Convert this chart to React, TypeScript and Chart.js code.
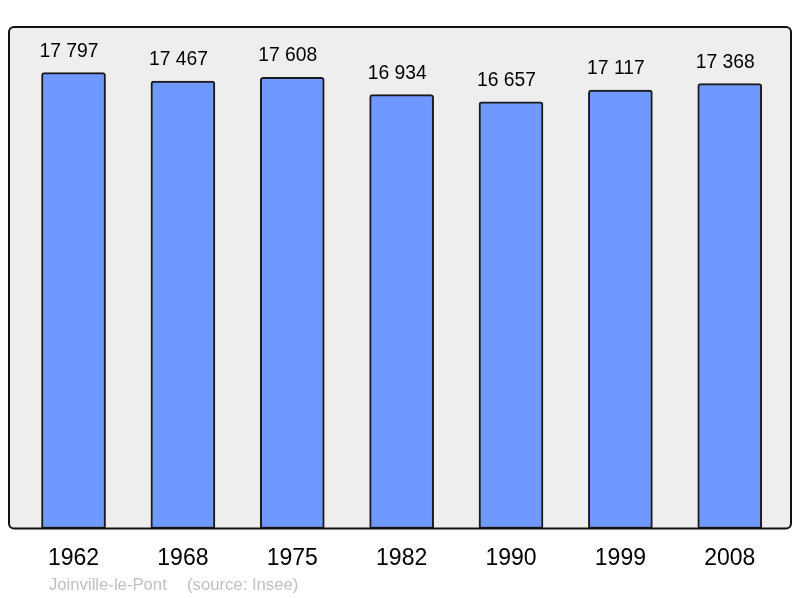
import React, { useEffect, useRef } from "react";
import { Chart, registerables } from "chart.js";

Chart.register(...registerables);

const years = ["1962", "1968", "1975", "1982", "1990", "1999", "2008"];
const population = [17797, 17467, 17608, 16934, 16657, 17117, 17368];
const valueLabels = ["17 797", "17 467", "17 608", "16 934", "16 657", "17 117", "17 368"];
const footerTown = "Joinville-le-Pont";
const footerSource = "(source: Insee)";

const FONT = "'Liberation Sans', Arial, sans-serif";

function roundRect(ctx: CanvasRenderingContext2D, x: number, y: number, w: number, h: number, r: number) {
  ctx.beginPath();
  ctx.moveTo(x + r, y);
  ctx.lineTo(x + w - r, y);
  ctx.arcTo(x + w, y, x + w, y + r, r);
  ctx.lineTo(x + w, y + h - r);
  ctx.arcTo(x + w, y + h, x + w - r, y + h, r);
  ctx.lineTo(x + r, y + h);
  ctx.arcTo(x, y + h, x, y + h - r, r);
  ctx.lineTo(x, y + r);
  ctx.arcTo(x, y, x + r, y, r);
  ctx.closePath();
}

const framePlugin = {
  id: "frame",
  beforeDatasetsDraw(chart: any) {
    const { ctx, chartArea } = chart;
    ctx.save();
    roundRect(ctx, chartArea.left, chartArea.top, chartArea.right - chartArea.left, chartArea.bottom - chartArea.top, 5);
    ctx.fillStyle = "#eeeeee";
    ctx.fill();
    ctx.restore();
  },
  afterDatasetsDraw(chart: any) {
    const { ctx, chartArea, scales } = chart;
    ctx.save();
    roundRect(ctx, chartArea.left, chartArea.top, chartArea.right - chartArea.left, chartArea.bottom - chartArea.top, 5);
    ctx.strokeStyle = "#111111";
    ctx.lineWidth = 2;
    ctx.stroke();

    const meta = chart.getDatasetMeta(0);
    ctx.fillStyle = "#000000";
    ctx.textAlign = "center";
    ctx.textBaseline = "alphabetic";
    ctx.font = `19.3px ${FONT}`;
    meta.data.forEach((bar: any, i: number) => {
      ctx.fillText(valueLabels[i], bar.x - 4.5, bar.y - 16);
    });

    ctx.font = `23px ${FONT}`;
    years.forEach((y, i) => {
      ctx.fillText(y, scales.x.getPixelForValue(i), chartArea.bottom + 36.5);
    });

    ctx.font = `16.7px ${FONT}`;
    ctx.fillStyle = "#c0c0c0";
    ctx.textAlign = "left";
    ctx.fillText(footerTown, 49, chartArea.bottom + 61);
    ctx.fillText(footerSource, 187, chartArea.bottom + 61);
    ctx.restore();
  },
};

export default function App() {
  const ref = useRef<HTMLCanvasElement>(null);

  useEffect(() => {
    if (!ref.current) return;
    const chart = new Chart(ref.current, {
      type: "bar",
      data: {
        datasets: [
          {
            data: population.map((v, i) => ({ x: i, y: v })),
            backgroundColor: "#7099ff",
            borderColor: "#1a1a1a",
            borderWidth: 2,
            borderSkipped: false,
            borderRadius: { topLeft: 3, topRight: 3, bottomLeft: 0, bottomRight: 0 },
            barThickness: 64,
          },
        ],
      },
      options: {
        animation: false,
        responsive: false,
        maintainAspectRatio: false,
        layout: { padding: { left: 9, top: 27, right: 9, bottom: 69.5 } },
        plugins: { legend: { display: false }, tooltip: { enabled: false }, title: { display: false } },
        scales: {
          x: { type: "linear", min: -0.59, max: 6.56, offset: false, display: false },
          y: { min: 0, max: Math.max(...population) * 1.1, display: false },
        },
      },
      plugins: [framePlugin],
    });
    return () => chart.destroy();
  }, []);

  return (
    <div style={{ position: "absolute", left: 0, top: 0, width: 800, height: 598, background: "#ffffff" }}>
      <canvas ref={ref} width={800} height={598} style={{ width: 800, height: 598, display: "block" }} />
    </div>
  );
}
